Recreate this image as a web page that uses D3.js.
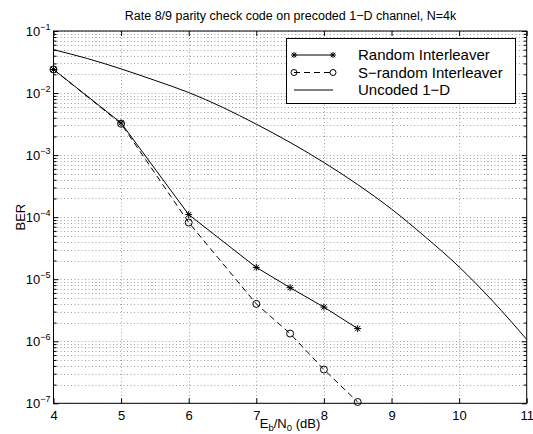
<!DOCTYPE html>
<html>
<meta charset="utf-8">
<head>
    <script src="https://d3js.org/d3.v7.min.js"></script>
    <style>
      body { margin: 0; background: white; }
      text { font-family: Arial, "Liberation Sans", Helvetica, sans-serif; fill: black; }
    </style>
</head>
<body>
    <script>
        // Eb/N0 (dB) where the coded curves were simulated
        var ebno = [4, 5, 6, 7, 7.5, 8, 8.5];
        var berRandom = [2.4e-2, 3.3e-3, 1.1e-4, 1.55e-5, 7.3e-6, 3.55e-6, 1.6e-6];
        var berSRandom = [2.4e-2, 3.2e-3, 8.2e-5, 4.0e-6, 1.33e-6, 3.5e-7, 1.05e-7];

        // uncoded 1-D curve
        var ebnoUncoded = [4, 4.5, 5, 5.5, 6, 6.5, 7, 7.5, 8, 8.5, 9, 9.5, 10, 10.5, 11];
        var berUncoded = [5.0e-2, 3.6e-2, 2.45e-2, 1.6e-2, 1.02e-2, 5.9e-3, 3.15e-3, 1.6e-3,
                          7.6e-4, 3.35e-4, 1.35e-4, 4.8e-5, 1.58e-5, 4.4e-6, 1.07e-6];

        var xTicks = [4, 5, 6, 7, 8, 9, 10, 11];
        var yDecades = [1e-7, 1e-6, 1e-5, 1e-4, 1e-3, 1e-2, 1e-1];
        var yExponents = ["−7", "−6", "−5", "−4", "−3", "−2", "−1"];

        var legendLabels = ["Random Interleaver", "S−random Interleaver", "Uncoded 1−D"];

        var width = 533,
            height = 434;

        // plot box (window.top is reserved, so use own names)
        var pLeft = 53.5, pRight = 526.7, pTop = 31, pBottom = 403.3;

        var svg = d3.select("body").append("svg")
            .attr("width", width)
            .attr("height", height);

        svg.append("rect")
            .attr("width", width).attr("height", height)
            .attr("fill", "white");

        var x = d3.scaleLinear().domain([4, 11]).range([pLeft, pRight]);
        var y = d3.scaleLog().domain([1e-7, 1e-1]).range([pBottom, pTop]);

        // minor values for the log grid
        var yMinor = [];
        yDecades.forEach(function(d, i) {
          if (i == yDecades.length - 1) return;
          for (var k = 2; k <= 9; k++) yMinor.push(d * k);
        });

        // grid
        var grid = svg.append("g")
            .attr("stroke", "#888")
            .attr("stroke-width", 0.8)
            .attr("stroke-dasharray", "1,2.5");

        grid.selectAll("line.h")
            .data(yDecades.concat(yMinor))
            .enter().append("line")
            .attr("x1", pLeft).attr("x2", pRight)
            .attr("y1", d => Math.round(y(d)) + 0.5)
            .attr("y2", d => Math.round(y(d)) + 0.5);

        grid.selectAll("line.v")
            .data(xTicks.slice(1, -1))
            .enter().append("line")
            .attr("y1", pTop).attr("y2", pBottom)
            .attr("x1", d => Math.round(x(d)) + 0.5)
            .attr("x2", d => Math.round(x(d)) + 0.5);

        // axes (ticks pointing inward)
        var xAxis = svg.append("g")
            .attr("transform", "translate(0," + pBottom + ")")
            .call(d3.axisBottom(x).tickValues(xTicks).tickSize(-5).tickPadding(7).tickFormat(d3.format("d")));

        svg.append("g")
            .attr("transform", "translate(0," + pTop + ")")
            .call(d3.axisTop(x).tickValues(xTicks).tickSize(-5).tickFormat(""));

        var yAxis = svg.append("g")
            .attr("transform", "translate(" + pLeft + ",0)")
            .call(d3.axisLeft(y).tickValues(yDecades).tickSize(-5).tickPadding(3).tickFormat(""));

        svg.append("g")
            .attr("transform", "translate(" + pLeft + ",0)")
            .call(d3.axisLeft(y).tickValues(yMinor).tickSize(-3).tickFormat(""));

        svg.append("g")
            .attr("transform", "translate(" + pRight + ",0)")
            .call(d3.axisRight(y).tickValues(yDecades).tickSize(-5).tickFormat(""));

        svg.append("g")
            .attr("transform", "translate(" + pRight + ",0)")
            .call(d3.axisRight(y).tickValues(yMinor).tickSize(-3).tickFormat(""));

        svg.selectAll(".domain").remove();
        svg.selectAll(".tick line").attr("stroke", "black");

        xAxis.selectAll(".tick text")
            .attr("font-size", 13)
            .attr("font-family", "Arial, 'Liberation Sans', sans-serif");

        yAxis.selectAll(".tick text")
            .attr("font-family", "Arial, 'Liberation Sans', sans-serif")
            .attr("dy", null)
            .attr("y", 4.5)
            .each(function(d, i) {
              var t = d3.select(this);
              t.text(null);
              t.append("tspan").attr("font-size", 13).text("10");
              t.append("tspan").attr("font-size", 9).attr("dy", -6.5).text(yExponents[i]);
            });

        // frame
        svg.append("rect")
            .attr("x", pLeft).attr("y", pTop)
            .attr("width", pRight - pLeft).attr("height", pBottom - pTop)
            .attr("fill", "none")
            .attr("stroke", "black")
            .attr("stroke-width", 1);

        // data
        var line = d3.line()
            .x(d => x(d[0]))
            .y(d => y(d[1]));

        var smooth = d3.line()
            .curve(d3.curveMonotoneX)
            .x(d => x(d[0]))
            .y(d => y(d[1]));

        var randomPts = ebno.map((e, i) => [e, berRandom[i]]);
        var sRandomPts = ebno.map((e, i) => [e, berSRandom[i]]);
        var uncodedPts = ebnoUncoded.map((e, i) => [e, berUncoded[i]]);

        svg.append("path")
            .attr("d", smooth(uncodedPts))
            .attr("fill", "none").attr("stroke", "black").attr("stroke-width", 1);

        svg.append("path")
            .attr("d", line(sRandomPts))
            .attr("fill", "none").attr("stroke", "black").attr("stroke-width", 1)
            .attr("stroke-dasharray", "6,4");

        svg.append("path")
            .attr("d", line(randomPts))
            .attr("fill", "none").attr("stroke", "black").attr("stroke-width", 1);

        function star(g, cx, cy, r) {
          var s = g.append("g").attr("transform", "translate(" + cx + "," + cy + ")")
              .attr("stroke", "black").attr("stroke-width", 1);
          var d = r * 0.75;
          s.append("line").attr("x1", -r).attr("x2", r).attr("y1", 0).attr("y2", 0);
          s.append("line").attr("x1", 0).attr("x2", 0).attr("y1", -r).attr("y2", r);
          s.append("line").attr("x1", -d).attr("x2", d).attr("y1", -d).attr("y2", d);
          s.append("line").attr("x1", -d).attr("x2", d).attr("y1", d).attr("y2", -d);
        }

        function ring(g, cx, cy, r) {
          g.append("circle").attr("cx", cx).attr("cy", cy).attr("r", r)
            .attr("fill", "none").attr("stroke", "black").attr("stroke-width", 1);
        }

        var marks = svg.append("g");
        sRandomPts.forEach(p => ring(marks, x(p[0]), y(p[1]), 3.5));
        randomPts.forEach(p => star(marks, x(p[0]), y(p[1]), 3.5));

        // labels
        svg.append("text")
            .attr("x", 290.5).attr("y", 20)
            .attr("text-anchor", "middle")
            .attr("font-size", 12.5)
            .text("Rate 8/9 parity check code on precoded 1−D channel, N=4k");

        var xl = svg.append("text")
            .attr("x", 290).attr("y", 428)
            .attr("text-anchor", "middle")
            .attr("font-size", 13);
        xl.append("tspan").text("E");
        xl.append("tspan").attr("font-size", 9.5).attr("dy", 3).text("b");
        xl.append("tspan").attr("dy", -3).text("/N");
        xl.append("tspan").attr("font-size", 9.5).attr("dy", 3).text("0");
        xl.append("tspan").attr("dy", -3).text(" (dB)");

        svg.append("text")
            .attr("transform", "translate(25," + ((pTop + pBottom) / 2) + ") rotate(-90)")
            .attr("text-anchor", "middle")
            .attr("font-size", 13)
            .text("BER");

        // legend
        var lg = svg.append("g");
        lg.append("rect")
            .attr("x", 286.5).attr("y", 38.5)
            .attr("width", 229).attr("height", 65)
            .attr("fill", "white").attr("stroke", "black").attr("stroke-width", 1);

        var rowY = [55, 72.5, 90];
        var lx1 = 294, lx2 = 333;

        lg.append("line").attr("x1", lx1).attr("x2", lx2).attr("y1", rowY[0]).attr("y2", rowY[0])
          .attr("stroke", "black");
        star(lg, lx1, rowY[0], 3);
        star(lg, lx2, rowY[0], 3);

        lg.append("line").attr("x1", lx1).attr("x2", lx2).attr("y1", rowY[1]).attr("y2", rowY[1])
          .attr("stroke", "black").attr("stroke-dasharray", "6,4");
        ring(lg, lx1, rowY[1], 3);
        ring(lg, lx2, rowY[1], 3);

        lg.append("line").attr("x1", lx1).attr("x2", lx2).attr("y1", rowY[2]).attr("y2", rowY[2])
          .attr("stroke", "black");

        lg.selectAll("text.leg")
            .data(legendLabels)
            .enter().append("text")
            .attr("x", 358)
            .attr("y", (d, i) => rowY[i])
            .attr("dy", "0.36em")
            .attr("font-size", 15)
            .text(d => d);
    </script>
</body>
</html>
